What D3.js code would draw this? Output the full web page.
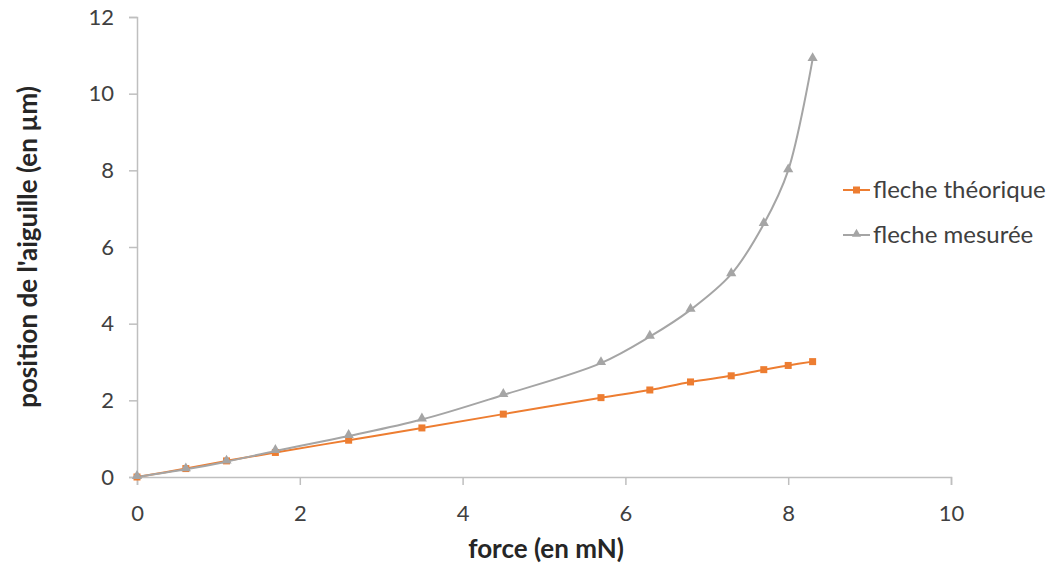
<!DOCTYPE html>
<html><head><meta charset="utf-8">
<script src="https://cdn.jsdelivr.net/npm/d3@7"></script>
<style>body{margin:0;background:#fff}svg{display:block}text{font-family:Lato,"Open Sans",sans-serif}</style>
</head><body><svg id="c" width="1056" height="566"></svg>
<script>
const force = [0, 0.6, 1.1, 1.7, 2.6, 3.5, 4.5, 5.7, 6.3, 6.8, 7.3, 7.7, 8.0, 8.3];
const flecheTheorique = [0, 0.22, 0.42, 0.64, 0.96, 1.28, 1.64, 2.07, 2.27, 2.48, 2.64, 2.8, 2.91, 3.01];
const flecheMesuree = [0, 0.2, 0.4, 0.68, 1.07, 1.5, 2.14, 2.97, 3.66, 4.36, 5.29, 6.6, 8.0, 10.9];
const xTicks = [0, 2, 4, 6, 8, 10];
const yTicks = [0, 2, 4, 6, 8, 10, 12];
const seriesNames = ["fleche théorique", "fleche mesurée"];
const colors = ["#ED7D31", "#A5A5A5"];

const svg = d3.select("#c");
const x = d3.scaleLinear().domain([0, 10]).range([137, 951]);
const y = d3.scaleLinear().domain([0, 12]).range([477, 17]);
const axisColor = "#BFBFBF";

const xa = svg.append("g").attr("transform", `translate(0,${y(0)})`)
  .call(d3.axisBottom(x).tickValues(xTicks).tickSize(8).tickPadding(20).tickFormat(d3.format("d")));
const ya = svg.append("g").attr("transform", `translate(${x(0)},0)`)
  .call(d3.axisLeft(y).tickValues(yTicks).tickSize(8).tickPadding(15).tickFormat(d3.format("d")));
[xa, ya].forEach(a => {
  a.select(".domain").attr("stroke", axisColor).attr("stroke-width", 1.5);
  a.selectAll(".tick line").attr("stroke", axisColor).attr("stroke-width", 1.5);
  a.selectAll(".tick text").attr("fill", "#404040").style("font-size", "22px");
});

svg.append("text").attr("x", (x(0) + x(10)) / 2 + 2).attr("y", 558).attr("text-anchor", "middle")
  .style("font-size", "26px").style("font-weight", "bold").attr("fill", "#262626").text("force (en mN)");
svg.append("text").attr("transform", `translate(37,${(y(0) + y(12)) / 2}) rotate(-90)`).attr("text-anchor", "middle")
  .style("font-size", "26px").style("font-weight", "bold").attr("fill", "#262626").text("position de l'aiguille (en µm)");

const series = [flecheTheorique, flecheMesuree];
const line = d3.line().curve(d3.curveCatmullRom.alpha(0.5));
const tri = d3.symbol().type(d3.symbolTriangle).size(45);

series.forEach((vals, i) => {
  const pts = force.map((f, j) => [x(f), y(vals[j])]);
  svg.append("path").attr("d", line(pts)).attr("fill", "none").attr("stroke", colors[i]).attr("stroke-width", 2);
});
series.forEach((vals, i) => {
  const g = svg.append("g");
  force.forEach((f, j) => {
    if (i === 0) {
      g.append("rect").attr("x", x(f) - 3.5).attr("y", y(vals[j]) - 3.5).attr("width", 7).attr("height", 7).attr("fill", colors[i]);
    } else {
      g.append("path").attr("d", tri()).attr("transform", `translate(${x(f)},${y(vals[j]) - 1})`).attr("fill", colors[i]);
    }
  });
});

// legend
const lg = svg.append("g");
seriesNames.forEach((n, i) => {
  const ly = 190 + i * 45;
  lg.append("line").attr("x1", 843).attr("x2", 870).attr("y1", ly).attr("y2", ly).attr("stroke", colors[i]).attr("stroke-width", 2);
  if (i === 0) lg.append("rect").attr("x", 853).attr("y", ly - 3.5).attr("width", 7).attr("height", 7).attr("fill", colors[i]);
  else lg.append("path").attr("d", d3.symbol().type(d3.symbolTriangle).size(36)()).attr("transform", `translate(856.5,${ly - 1})`).attr("fill", colors[i]);
  lg.append("text").attr("x", 873).attr("y", ly + 8).style("font-size", "24px").attr("fill", "#404040").text(n);
});
</script></body></html>
